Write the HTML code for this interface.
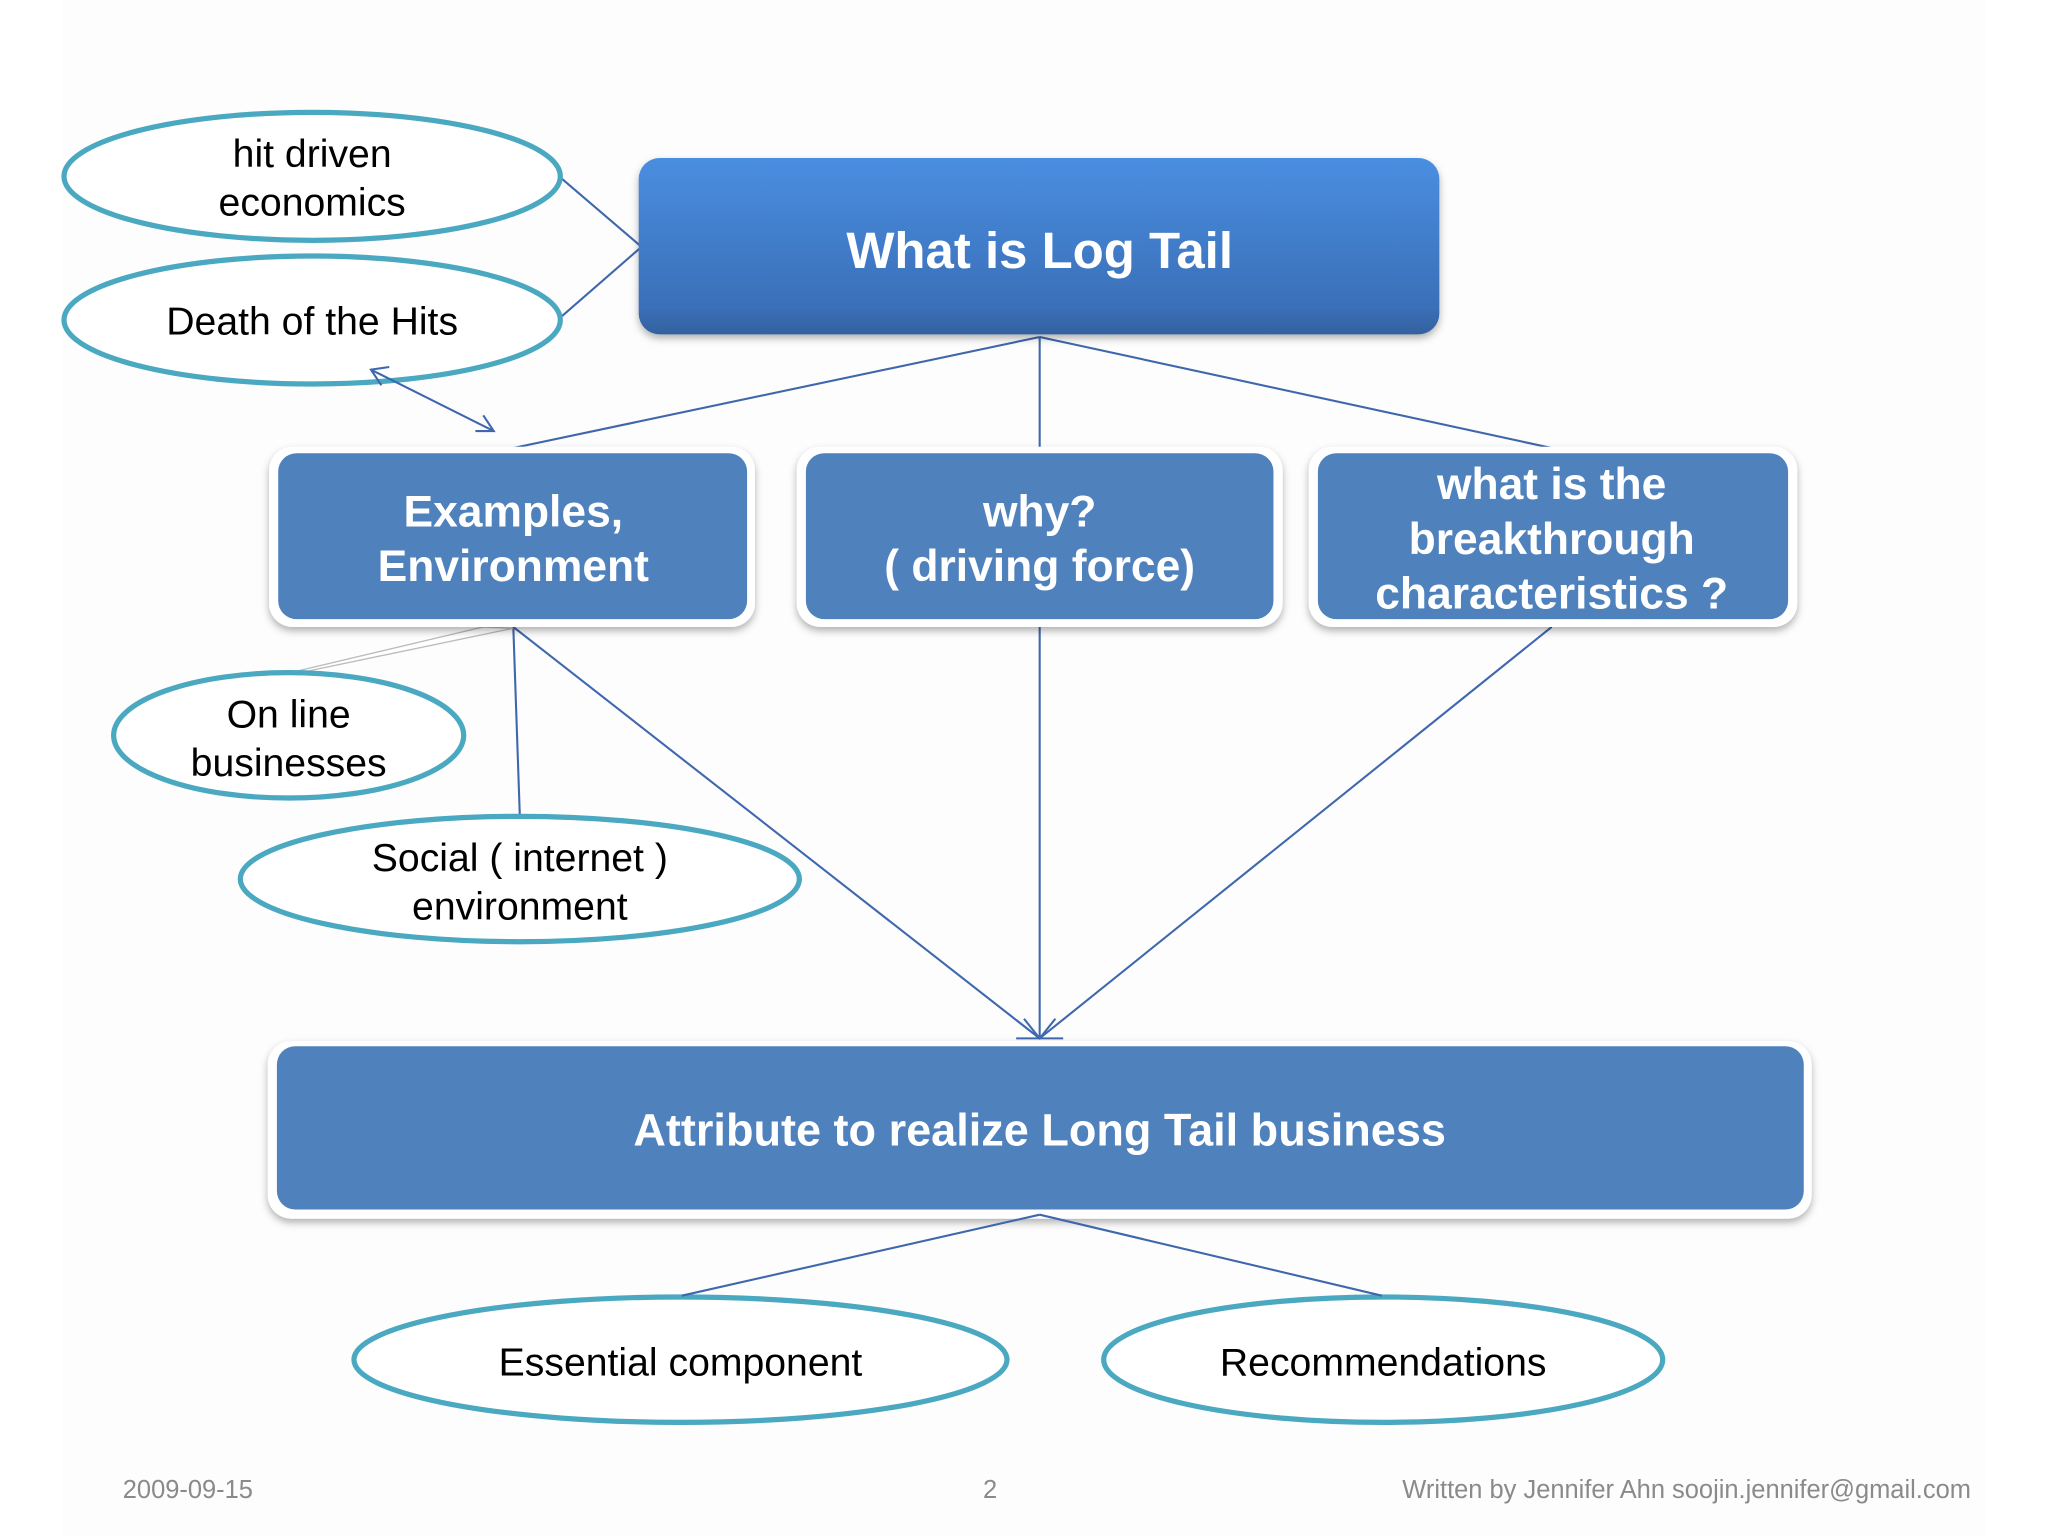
<!DOCTYPE html>
<html><head><meta charset="utf-8"><style>
html,body{margin:0;padding:0;background:#fff;}
svg{display:block;}
text{font-family:"Liberation Sans",Arial,sans-serif;}
</style></head><body>
<svg width="2048" height="1536" viewBox="0 0 1568 1176" xmlns="http://www.w3.org/2000/svg">
<defs>
<linearGradient id="g1" x1="0" y1="0" x2="0" y2="1">
<stop offset="0" stop-color="#4a8ee0"/><stop offset="0.85" stop-color="#3a6fb8"/><stop offset="1" stop-color="#33619f"/>
</linearGradient>
<filter id="sh" x="-10%" y="-10%" width="120%" height="130%"><feDropShadow dx="0" dy="3" stdDeviation="3" flood-color="#000" flood-opacity="0.3"/></filter>
</defs>
<rect x="0" y="0" width="1568" height="1176" fill="#fff"/>
<rect x="48" y="0" width="1472" height="1176" fill="#fdfdfd"/>
<g stroke="#3f67ad" stroke-width="1.6" fill="none">
<line x1="428" y1="135" x2="490" y2="188"/>
<line x1="428" y1="244" x2="490" y2="190"/>
<line x1="796" y1="258" x2="393" y2="343"/>
<line x1="796" y1="258" x2="796" y2="343"/>
<line x1="796" y1="258" x2="1188" y2="343"/>
<line x1="393" y1="480" x2="398" y2="625"/>
<line x1="393" y1="480" x2="796" y2="795"/>
<line x1="796" y1="480" x2="796" y2="795"/>
<line x1="1188" y1="480" x2="796" y2="795"/>
<polyline points="784,780 796,795 808,780"/>
<line x1="778" y1="795" x2="814" y2="795"/>
</g>
<polygon points="370,480 393,481 225,516 218,516" fill="#fff" stroke="#bbb" stroke-width="1"/>
<g fill="#fff" stroke="#4aa8c0" stroke-width="4">
<ellipse cx="239" cy="135" rx="190" ry="49"/>
<ellipse cx="239" cy="245" rx="190" ry="49"/>
<ellipse cx="221" cy="563" rx="134" ry="48"/>
<ellipse cx="398" cy="673" rx="214" ry="48"/>
<ellipse cx="521" cy="1041" rx="250" ry="48"/>
<ellipse cx="1059" cy="1041" rx="214" ry="48"/>
</g>
<g stroke="#3f67ad" stroke-width="1.6" fill="none">
<line x1="284" y1="283" x2="378" y2="330"/>
<polyline points="298,281 284,283 292,295"/>
<polyline points="364,330 378,330 370,318"/>
</g>
<rect x="489" y="121" width="613" height="135" rx="16" fill="url(#g1)" filter="url(#sh)"/>
<g filter="url(#sh)">
<rect x="206" y="342" width="372" height="138" rx="18" fill="#fff"/>
<rect x="610" y="342" width="372" height="138" rx="18" fill="#fff"/>
<rect x="1002" y="342" width="374" height="138" rx="18" fill="#fff"/>
<rect x="205" y="797" width="1182" height="136" rx="18" fill="#fff"/>
</g>
<g fill="#4f81bd">
<rect x="213" y="347" width="359" height="127" rx="14"/>
<rect x="617" y="347" width="358" height="127" rx="14"/>
<rect x="1009" y="347" width="360" height="127" rx="14"/>
<rect x="212" y="801" width="1169" height="125" rx="14"/>
</g>
<g stroke="#3f67ad" stroke-width="1.6" fill="none">
<line x1="796" y1="930" x2="522" y2="992"/>
<line x1="796" y1="930" x2="1058" y2="992"/>
</g>
<g fill="#fff" font-weight="bold" text-anchor="middle">
<text x="796" y="205" font-size="39">What is Log Tail</text>
<text x="393" y="403" font-size="34">Examples,</text>
<text x="393" y="445" font-size="34">Environment</text>
<text x="796" y="403" font-size="34">why?</text>
<text x="796" y="445" font-size="34">( driving force)</text>
<text x="1188" y="382" font-size="34">what is the</text>
<text x="1188" y="424" font-size="34">breakthrough</text>
<text x="1188" y="466" font-size="34">characteristics ?</text>
<text x="796" y="877" font-size="34.5">Attribute to realize Long Tail business</text>
</g>
<g fill="#000" text-anchor="middle" font-size="30">
<text x="239" y="128">hit driven</text>
<text x="239" y="165">economics</text>
<text x="239" y="256">Death of the Hits</text>
<text x="221" y="557">On line</text>
<text x="221" y="594">businesses</text>
<text x="398" y="667">Social ( internet )</text>
<text x="398" y="704">environment</text>
<text x="521" y="1053">Essential component</text>
<text x="1059" y="1053">Recommendations</text>
</g>
<g fill="#8a8a8a" font-size="19.5">
<text x="94" y="1147">2009-09-15</text>
<text x="758" y="1147" text-anchor="middle">2</text>
<text x="1509" y="1147" text-anchor="end">Written by Jennifer Ahn soojin.jennifer@gmail.com</text>
</g>
</svg>
</body></html>
